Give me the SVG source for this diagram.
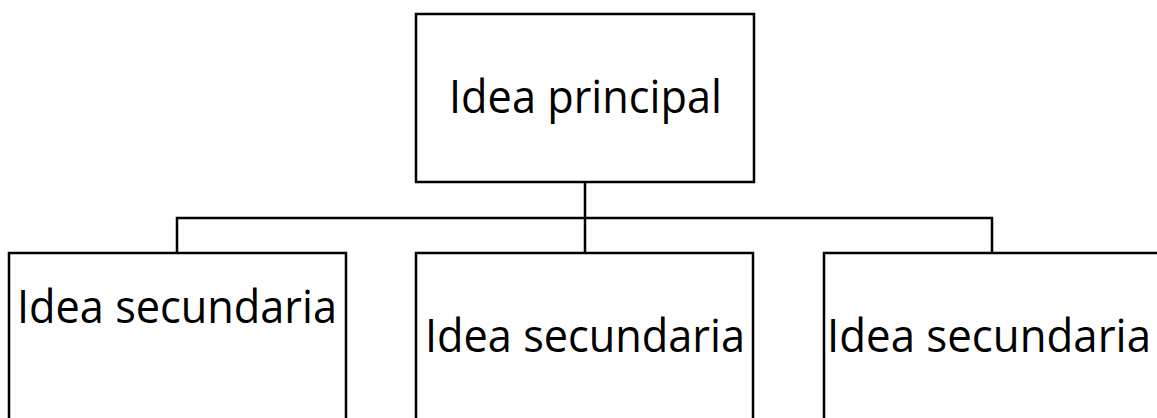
<svg xmlns="http://www.w3.org/2000/svg" width="1157" height="418" viewBox="0 0 1157 418">
<style>
.box{fill:#fff;stroke:#000;stroke-width:2.5}
.lbl{font-family:"Open Sans","Noto Sans","Liberation Sans",sans-serif;font-size:45px;fill:#000}
.conn{fill:none;stroke:#000;stroke-width:2.5}
</style>
<rect width="1157" height="418" fill="#fff"/>
<g id="connectors">
<path class="conn" d="M585 182V253M177 253V218H992V253"/>
</g>
<g id="main">
<rect class="box" x="416" y="14" width="338" height="168"/>
<text class="lbl" x="449" y="113" textLength="273" lengthAdjust="spacingAndGlyphs">Idea principal</text>
</g>
<g id="sec1">
<rect class="box" x="9" y="253" width="337" height="180"/>
<text class="lbl" x="17" y="323" textLength="320" lengthAdjust="spacingAndGlyphs">Idea secundaria</text>
</g>
<g id="sec2">
<rect class="box" x="416" y="253" width="337" height="180"/>
<text class="lbl" x="425" y="352" textLength="320" lengthAdjust="spacingAndGlyphs">Idea secundaria</text>
</g>
<g id="sec3">
<rect class="box" x="824" y="253" width="400" height="180"/>
<text class="lbl" x="827" y="352" textLength="324" lengthAdjust="spacingAndGlyphs">Idea secundaria</text>
</g>
</svg>
